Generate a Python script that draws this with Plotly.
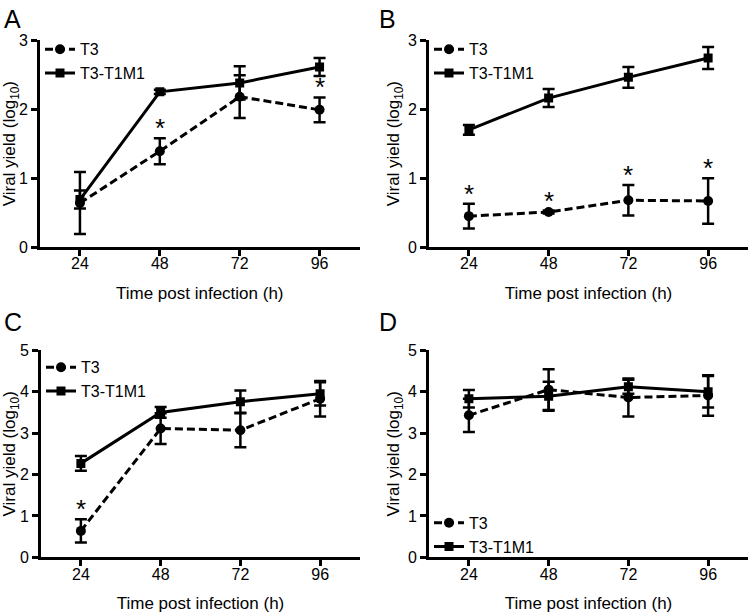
import plotly.graph_objects as go

hours = [24, 48, 72, 96]
tick_labels = ["24", "48", "72", "96"]

A_T3 = [0.64, 1.39, 2.18, 1.99]
A_T3_err = [0.45, 0.19, 0.31, 0.18]
A_T1M1 = [0.69, 2.25, 2.38, 2.61]
A_T1M1_err = [0.13, 0.03, 0.24, 0.13]
A_sig = [False, True, False, True]

B_T3 = [0.45, 0.51, 0.68, 0.67]
B_T3_err = [0.18, 0.02, 0.22, 0.33]
B_T1M1 = [1.70, 2.16, 2.46, 2.74]
B_T1M1_err = [0.07, 0.13, 0.15, 0.16]
B_sig = [True, True, True, True]

C_T3 = [0.64, 3.11, 3.07, 3.83]
C_T3_err = [0.28, 0.37, 0.41, 0.43]
C_T1M1 = [2.27, 3.50, 3.76, 3.95]
C_T1M1_err = [0.18, 0.13, 0.27, 0.28]
C_sig = [True, False, False, False]

D_T3 = [3.43, 4.05, 3.86, 3.91]
D_T3_err = [0.40, 0.49, 0.46, 0.49]
D_T1M1 = [3.83, 3.89, 4.12, 4.00]
D_T1M1_err = [0.21, 0.35, 0.17, 0.38]
D_sig = [False, False, False, False]

panel_letters = ["A", "B", "C", "D"]
y_max = [3, 3, 5, 5]

FONT = "Liberation Sans, Arial, sans-serif"
W, H = 750, 616

panels = [
    (A_T3, A_T3_err, A_T1M1, A_T1M1_err, A_sig),
    (B_T3, B_T3_err, B_T1M1, B_T1M1_err, B_sig),
    (C_T3, C_T3_err, C_T1M1, C_T1M1_err, C_sig),
    (D_T3, D_T3_err, D_T1M1, D_T1M1_err, D_sig),
]

# pixel layout of plot areas (left, right, top, bottom)
boxes = [(40, 359.5, 33, 246), (429, 748, 33, 246), (41, 360, 352, 565), (429, 748, 352, 565)]
legend_pos = [(40, 25), (429, 25), (41, 352), (429, 512)]

fig = go.Figure()
annotations = []
layout = {}

for i, (t3, t3e, t1, t1e, sig) in enumerate(panels):
    n = i + 1
    xa = "x" if n == 1 else f"x{n}"
    ya = "y" if n == 1 else f"y{n}"
    lg = "legend" if n == 1 else f"legend{n}"
    fig.add_trace(go.Scatter(
        x=hours, y=t3, name="T3", mode="lines+markers",
        line=dict(color="black", width=3, dash="8px,4px"),
        marker=dict(symbol="circle", size=10, color="black"),
        error_y=dict(type="data", array=t3e, visible=True, color="black", thickness=2.5, width=6),
        xaxis=xa, yaxis=ya, legend=lg, showlegend=True))
    fig.add_trace(go.Scatter(
        x=hours, y=t1, name="T3-T1M1", mode="lines+markers",
        line=dict(color="black", width=3),
        marker=dict(symbol="square", size=9, color="black"),
        error_y=dict(type="data", array=t1e, visible=True, color="black", thickness=2.5, width=6),
        xaxis=xa, yaxis=ya, legend=lg, showlegend=True))

    l, r, t, b = boxes[i]
    axcommon = dict(showline=True, linecolor="black", linewidth=3, ticks="outside",
                    ticklen=6, tickwidth=3, tickcolor="black", showgrid=False, zeroline=False,
                    tickfont=dict(family=FONT, size=16, color="black"), fixedrange=True)
    layout["xaxis" if n == 1 else f"xaxis{n}"] = dict(
        domain=[l / W, r / W], range=[12, 108], tickvals=hours, ticktext=tick_labels,
        anchor=ya, ticklabelstandoff=-6,
        title=dict(text="Time post infection (h)", font=dict(family=FONT, size=17, color="black"),
                   standoff=16),
        **axcommon)
    layout["yaxis" if n == 1 else f"yaxis{n}"] = dict(
        domain=[1 - b / H, 1 - t / H], range=[0, y_max[i]], dtick=1, anchor=xa,
        title=dict(text="Viral yield (log<sub>10</sub>)", font=dict(family=FONT, size=17, color="black"),
                   standoff=4),
        **axcommon)
    lx, ly = legend_pos[i]
    layout[lg] = dict(x=lx / W, y=1 - ly / H, xanchor="left", yanchor="top",
                      bgcolor="rgba(0,0,0,0)", font=dict(family=FONT, size=16, color="black"),
                      tracegroupgap=0, itemwidth=30)

    for h, m, e, s in zip(hours, t3, t3e, sig):
        if s:
            annotations.append(dict(x=h, y=m + e, xref=xa, yref=ya, text="*", showarrow=False,
                                    font=dict(family=FONT, size=26, color="black"),
                                    yanchor="middle", yshift=10))
    annotations.append(dict(x=(2 if i % 2 == 0 else 377) / W, y=1 - (0 if i < 2 else 312) / H,
                            xref="paper", yref="paper", xanchor="left", yanchor="top",
                            text=panel_letters[i], showarrow=False, yshift=5,
                            font=dict(family=FONT, size=25, color="black")))

fig.update_layout(width=W, height=H, margin=dict(l=0, r=0, t=0, b=0),
                  paper_bgcolor="white", plot_bgcolor="white",
                  annotations=annotations, **layout)

fig.write_html("out.html", config={"displayModeBar": False},
               post_script="document.body.style.margin='0';document.body.style.overflow='hidden';")
